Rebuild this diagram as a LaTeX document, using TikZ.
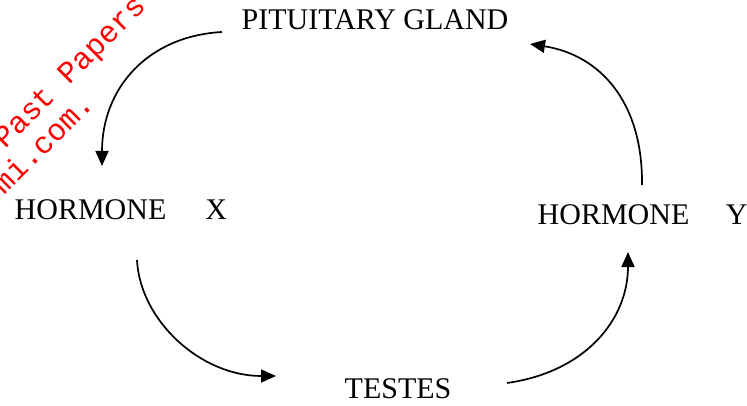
\documentclass[tikz,border=0pt]{standalone}
\usepackage{fontspec}
\setmainfont{Liberation Serif}
\newfontfamily\wmfont{Liberation Mono}
\usetikzlibrary{arrows.meta}
\tikzset{
  lbl/.style={anchor=base west, inner sep=0pt, font=\fontsize{30}{36}\selectfont},
  wm/.style={anchor=base west, inner sep=0pt, rotate=45, text=red, font=\wmfont\fontsize{30.5}{36}\selectfont},
  flow/.style={line width=1.7pt, -{Triangle[length=15pt,width=13pt]}}
}
\begin{document}
\begin{tikzpicture}[x=1pt,y=-1pt]
\useasboundingbox (0,0) rectangle (747,406);
% watermark
\node[wm] (wm1) at (5,150) {Past Papers};
\node[wm] (wm2) at (4.5,196) {mi.com.};
% labels
\node[lbl] (pit) at (241.5,29.3) {PITUITARY GLAND};
\node[lbl] (hx) at (14.5,219.2) {HORMONE\hspace{39pt}X};
\node[lbl] (hy) at (537.5,224.3) {HORMONE\hspace{36.5pt}Y};
\node[lbl] (tes) at (344.5,398.3) {TESTES};
% connector ends
\coordinate (a1) at (222,32);
\coordinate (a2) at (102,166);
\coordinate (b1) at (137,260);
\coordinate (b2) at (276,376);
\coordinate (c1) at (507,383);
\coordinate (c2) at (628,252);
\coordinate (d1) at (642,185);
\coordinate (d2) at (530,44);
\draw[flow] (a1) .. controls (148,36) and (102,88) .. (a2);
\draw[flow] (b1) .. controls (140,320) and (200,376) .. (b2);
\draw[flow] (c1) .. controls (585,372) and (628,320) .. (c2);
\draw[flow] (d1) .. controls (643,102) and (600,55) .. (d2);
\end{tikzpicture}
\end{document}
